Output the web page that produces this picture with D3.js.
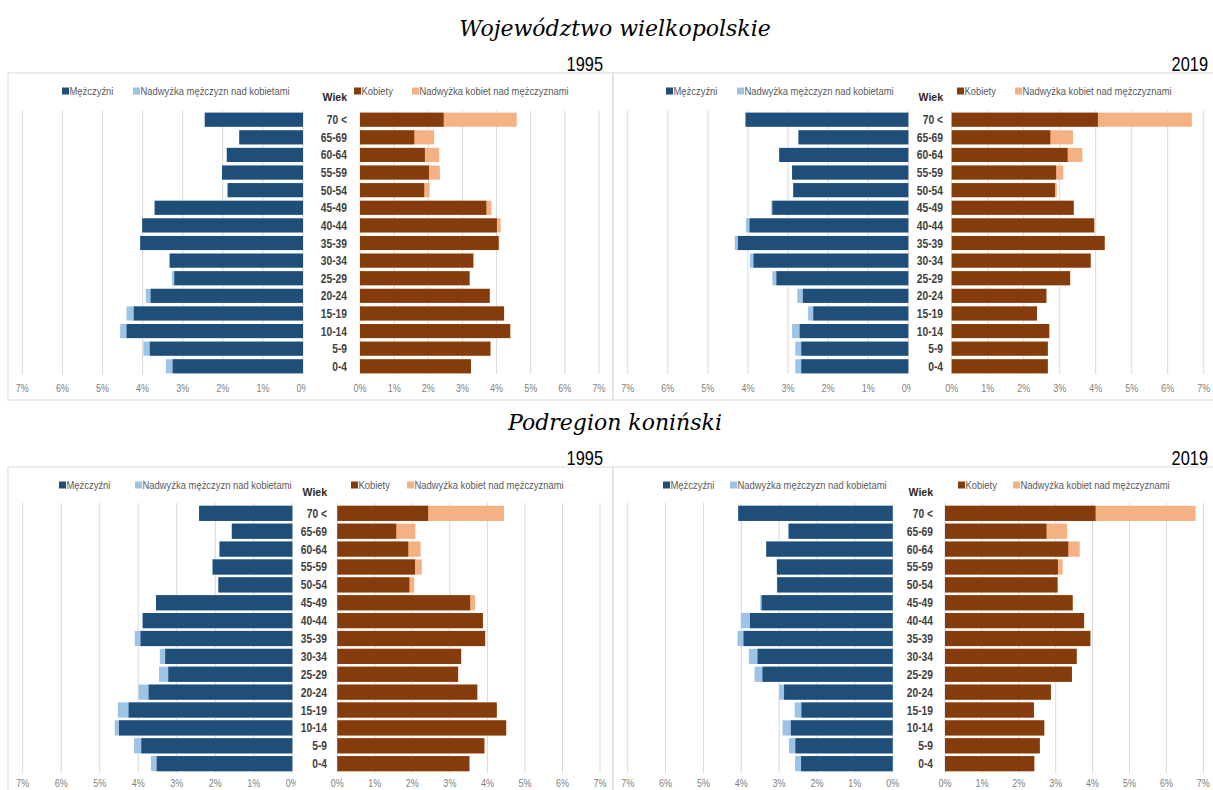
<!DOCTYPE html>
<html>
<head>
<meta charset="utf-8">
<script src="https://cdn.jsdelivr.net/npm/d3@7"></script>
<style>
  body { margin: 0; background: #fff; }
  svg { display: block; }
  text { font-family: "Liberation Sans", Arial, sans-serif; }
</style>
</head>
<body>
<div id="chart"></div>
<script>
// age groups, top row first
const ages = ["70 <", "65-69", "60-64", "55-59", "50-54", "45-49", "40-44", "35-39",
              "30-34", "25-29", "20-24", "15-19", "10-14", "5-9", "0-4"];
const ticks = [0, 1, 2, 3, 4, 5, 6, 7];

// share of population (%), województwo wielkopolskie
const menWlkp1995   = [2.45, 1.59, 1.90, 2.02, 1.88, 3.70, 4.01, 4.06, 3.34, 3.27, 3.92, 4.40, 4.56, 3.98, 3.42];
const womenWlkp1995 = [4.59, 2.17, 2.32, 2.34, 2.04, 3.85, 4.12, 4.08, 3.32, 3.21, 3.80, 4.22, 4.40, 3.82, 3.25];
const menWlkp2019   = [4.06, 2.74, 3.22, 2.90, 2.87, 3.42, 4.05, 4.33, 3.95, 3.39, 2.77, 2.50, 2.90, 2.82, 2.82];
const womenWlkp2019 = [6.67, 3.37, 3.63, 3.10, 2.92, 3.39, 3.96, 4.25, 3.86, 3.29, 2.63, 2.37, 2.71, 2.67, 2.67];

// podregion koniński
const menKon1995   = [2.42, 1.57, 1.89, 2.07, 1.92, 3.54, 3.90, 4.09, 3.44, 3.46, 3.99, 4.53, 4.61, 4.11, 3.67];
const womenKon1995 = [4.44, 2.08, 2.22, 2.25, 2.05, 3.67, 3.88, 3.94, 3.30, 3.22, 3.73, 4.25, 4.50, 3.92, 3.52];
const menKon2019   = [4.08, 2.75, 3.34, 3.06, 3.06, 3.50, 4.01, 4.10, 3.80, 3.65, 3.00, 2.59, 2.91, 2.74, 2.58];
const womenKon2019 = [6.79, 3.31, 3.65, 3.19, 3.05, 3.46, 3.77, 3.94, 3.57, 3.44, 2.87, 2.41, 2.69, 2.57, 2.42];

const regionTitles = ["Województwo wielkopolskie", "Podregion koniński"];
const legendMen = ["Mężczyźni", "Nadwyżka mężczyzn nad kobietami"];
const legendWomen = ["Kobiety", "Nadwyżka kobiet nad mężczyznami"];

const colMen = "#1f4e79", colMenEx = "#9dc3e6";
const colWomen = "#843c0c", colWomenEx = "#f4b183";

const W = 1213, H = 790;
const svg = d3.select("#chart").append("svg").attr("width", W).attr("height", H);
svg.append("rect").attr("width", W).attr("height", H).attr("fill", "#fff");

// no condensed face installed, so squeeze the sans text like Arial Narrow
const SQ = 0.82;
function narrow(sel, x, y) {
  return sel.attr("transform", `translate(${x},${y}) scale(${SQ},1)`);
}

// layout of the four pyramids
const panels = [
  { men: menWlkp1995, women: womenWlkp1995, year: "1995", frame: [8, 73, 605, 327],
    left: [303, 22.3], right: [360, 599], y: [110.9, 375.1], pad: 0.2, grid: [110.7, 374],
    labelX: 347, legL: [62, 133], legR: [354, 412], legY: 91, wiekY: 97, tickY: 388, clipX: 306,
    yearX: 603, yearY: 71 },
  { men: menWlkp2019, women: womenWlkp2019, year: "2019", frame: [613, 73, 620, 327],
    left: [908.3, 627.7], right: [951.7, 1203.7], y: [110.9, 375.1], pad: 0.2, grid: [110.7, 374],
    labelX: 943, legL: [666, 737], legR: [957, 1015], legY: 91, wiekY: 97, tickY: 388, clipX: 911,
    yearX: 1208, yearY: 71 },
  { men: menKon1995, women: womenKon1995, year: "1995", frame: [8, 467, 605, 340],
    left: [292.3, 22.7], right: [337.3, 600], y: [504.4, 772.6], pad: 0.15, grid: [503, 773],
    labelX: 327, legL: [59, 135], legR: [351, 407], legY: 485, wiekY: 492, tickY: 783, clipX: 296,
    yearX: 603, yearY: 465 },
  { men: menKon2019, women: womenKon2019, year: "2019", frame: [613, 467, 620, 340],
    left: [892.7, 627.7], right: [945, 1203.3], y: [504.4, 772.6], pad: 0.15, grid: [503, 773],
    labelX: 933, legL: [663, 730], legR: [958, 1013], legY: 485, wiekY: 492, tickY: 783, clipX: 905,
    yearX: 1208, yearY: 465 }
];

// region titles
svg.selectAll("text.region")
  .data(regionTitles)
  .enter()
  .append("text")
    .attr("class", "region")
    .attr("x", 615)
    .attr("y", (d, i) => i == 0 ? 36 : 430)
    .attr("text-anchor", "middle")
    .style("font-family", "'DejaVu Serif', serif")
    .style("font-style", "italic")
    .style("font-size", "22px")
    .style("fill", "#000")
    .text(d => d);

panels.forEach((p, pi) => {
  const g = svg.append("g");

  g.append("rect")
    .attr("x", p.frame[0]).attr("y", p.frame[1])
    .attr("width", p.frame[2]).attr("height", p.frame[3])
    .attr("fill", "none").attr("stroke", "#d9d9d9");

  narrow(g.append("text"), p.yearX, p.yearY)
    .attr("text-anchor", "end")
    .style("font-size", "20px").style("fill", "#000")
    .text(p.year);

  const xL = d3.scaleLinear().domain([0, 7]).range(p.left);
  const xR = d3.scaleLinear().domain([0, 7]).range(p.right);
  const y = d3.scaleBand().domain(ages).range(p.y)
    .paddingInner(p.pad).paddingOuter(p.pad / 2);

  // gridlines
  [xL, xR].forEach(x => {
    g.append("g").selectAll("line")
      .data(ticks)
      .enter()
      .append("line")
        .attr("x1", d => x(d)).attr("x2", d => x(d))
        .attr("y1", p.grid[0]).attr("y2", p.grid[1])
        .attr("stroke", "#d9d9d9").attr("stroke-width", 1);
  });

  const rows = ages.map((a, i) => {
    const m = p.men[i], w = p.women[i];
    return { age: a, m: m, w: w, base: Math.min(m, w) };
  });

  // men: base bar + excess over women
  g.append("g").selectAll("rect")
    .data(rows)
    .enter()
    .append("rect")
      .attr("x", d => xL(d.m))
      .attr("y", d => y(d.age))
      .attr("width", d => xL(0) - xL(d.m))
      .attr("height", y.bandwidth())
      .attr("fill", colMenEx);
  g.append("g").selectAll("rect")
    .data(rows)
    .enter()
    .append("rect")
      .attr("x", d => xL(d.base))
      .attr("y", d => y(d.age))
      .attr("width", d => xL(0) - xL(d.base))
      .attr("height", y.bandwidth())
      .attr("fill", colMen);

  // women
  g.append("g").selectAll("rect")
    .data(rows)
    .enter()
    .append("rect")
      .attr("x", xR(0))
      .attr("y", d => y(d.age))
      .attr("width", d => xR(d.w) - xR(0))
      .attr("height", y.bandwidth())
      .attr("fill", colWomenEx);
  g.append("g").selectAll("rect")
    .data(rows)
    .enter()
    .append("rect")
      .attr("x", xR(0))
      .attr("y", d => y(d.age))
      .attr("width", d => xR(d.base) - xR(0))
      .attr("height", y.bandwidth())
      .attr("fill", colWomen);

  // age labels
  g.append("g").selectAll("text")
    .data(ages)
    .enter()
    .append("text")
      .attr("transform", d => `translate(${p.labelX},${y(d) + y.bandwidth() / 2}) scale(${SQ},1)`)
      .attr("dy", "0.36em")
      .attr("text-anchor", "end")
      .style("font-size", "12.5px").style("font-weight", "bold").style("fill", "#404040")
      .text(d => d);

  g.append("text")
    .attr("x", p.labelX).attr("y", p.wiekY)
    .attr("dy", "0.35em")
    .attr("text-anchor", "end")
    .style("font-size", "10.5px").style("font-weight", "bold").style("fill", "#262626")
    .text("Wiek");

  // tick labels, the left 0% is cut by the plot edge
  g.append("clipPath").attr("id", "clipL" + pi)
    .append("rect").attr("x", 0).attr("y", 0).attr("width", p.clipX).attr("height", H);

  const tickText = (x, clip) => {
    const t = g.append("g");
    if (clip) t.attr("clip-path", `url(#clipL${pi})`);
    t.selectAll("text")
      .data(ticks)
      .enter()
      .append("text")
        .attr("transform", d => `translate(${x(d)},${p.tickY}) scale(${SQ},1)`)
        .attr("dy", "0.35em")
        .attr("text-anchor", "middle")
        .style("font-size", "11px").style("fill", "#7f7f7f")
        .text(d => d + "%");
  };
  tickText(xL, true);
  tickText(xR, false);

  // legends
  const legend = (xs, labels, cols) => {
    labels.forEach((lab, i) => {
      g.append("rect")
        .attr("x", xs[i]).attr("y", p.legY - 3.5)
        .attr("width", 7).attr("height", 7)
        .attr("fill", cols[i]);
      narrow(g.append("text"), xs[i] + 7.5, p.legY)
        .attr("dy", "0.35em")
        .style("font-size", "11.5px").style("fill", "#595959")
        .text(lab);
    });
  };
  legend(p.legL, legendMen, [colMen, colMenEx]);
  legend(p.legR, legendWomen, [colWomen, colWomenEx]);
});
</script>
</body>
</html>
